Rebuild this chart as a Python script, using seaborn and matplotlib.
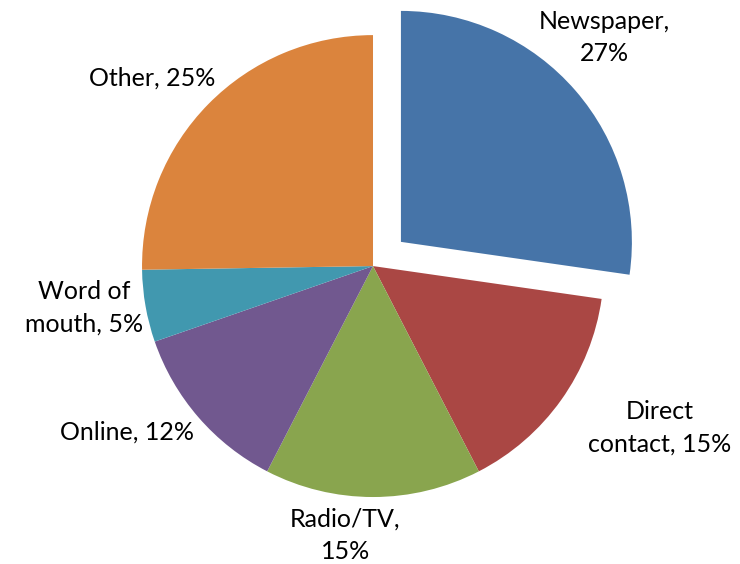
import matplotlib
matplotlib.use("Agg")
import matplotlib.pyplot as plt
import seaborn as sns

sns.set_theme(style="white")
plt.rcParams['font.family'] = ['Lato', 'DejaVu Sans']

# data (clockwise from the top)
categories = ["Newspaper", "Direct contact", "Radio/TV", "Online", "Word of mouth", "Other"]
shares = [27, 15, 15, 12, 5, 25]
label_texts = ["Newspaper,\n27%", "Direct\ncontact, 15%", "Radio/TV,\n15%",
               "Online, 12%", "Word of\nmouth, 5%", "Other, 25%"]
colors = ["#4674A8", "#AA4744", "#89A54E", "#71588F", "#4198AF", "#DB843D"]
explode = [0.16, 0, 0, 0, 0, 0]

# where the labels sit (data units, radius = 1)
label_pos = [(1.00, 0.99), (1.24, -0.70), (-0.12, -1.165),
             (-1.065, -0.72), (-1.25, -0.18), (-0.955, 0.815)]

fig = plt.figure(figsize=(7.4, 5.64), dpi=100)
ax = fig.add_axes([0, 0, 1, 1])

ax.pie(shares, colors=colors, explode=explode, startangle=90,
       counterclock=False, radius=1.0, wedgeprops=dict(linewidth=0))

for txt, (x, y) in zip(label_texts, label_pos):
    ax.text(x, y, txt, ha="center", va="center", fontsize=18,
            color="black", linespacing=1.5)

ax.set_aspect("auto")
ax.set_xlim(-1.615, 1.589)
ax.set_ylim(-1.290, 1.152)
ax.axis("off")

fig.savefig("out.png", dpi=100)
